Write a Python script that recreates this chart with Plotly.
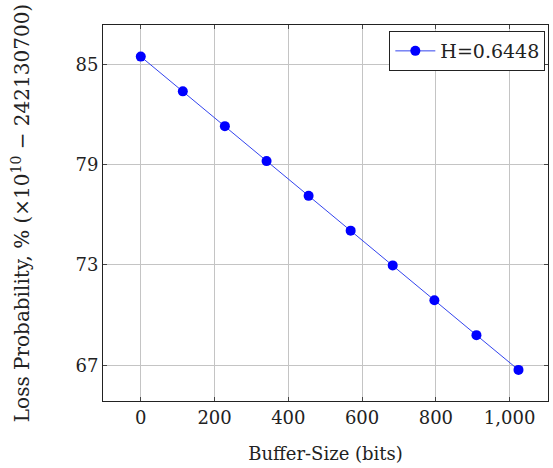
import plotly.graph_objects as go

buffer_size = [0, 114, 228, 341, 455, 569, 683, 796, 910, 1024]
loss_prob = [85.46, 83.38, 81.30, 79.21, 77.13, 75.05, 72.97, 70.89, 68.80, 66.72]
series_name = "H=0.6448"
x_tickvals = [0, 200, 400, 600, 800, 1000]
x_ticktext = ["0", "200", "400", "600", "800", "1,000"]
y_tickvals = [67, 73, 79, 85]
y_ticktext = ["67", "73", "79", "85"]

FONT = "DejaVu Serif"

fig = go.Figure()
fig.add_trace(go.Scatter(
    x=buffer_size, y=loss_prob, mode="lines+markers", name=series_name,
    line=dict(color="#3344ee", width=1),
    marker=dict(color="#0000ff", size=10, symbol="circle"),
    showlegend=True,
))

axis_common = dict(
    showline=True, linecolor="#222222", linewidth=1, mirror="ticks",
    ticks="inside", ticklen=4, tickcolor="#444444",
    showgrid=True, gridcolor="#c4c4c4", gridwidth=1,
    zeroline=False, tickfont=dict(family=FONT, size=18, color="#222222"),
)

fig.update_layout(
    width=553, height=468,
    margin=dict(l=103, r=5, t=25, b=67, autoexpand=False),
    paper_bgcolor="white", plot_bgcolor="white",
    font=dict(family=FONT, size=18, color="#222222"),
    xaxis=dict(range=[-102.4, 1104], tickvals=x_tickvals, ticktext=x_ticktext,
               title=dict(text="Buffer-Size (bits)", font=dict(family=FONT, size=18), standoff=20),
               **axis_common),
    yaxis=dict(range=[64.86, 87.35], tickvals=y_tickvals, ticktext=y_ticktext,
               title=dict(text="Loss Probability, % (×10<sup>10</sup> − 242130700)",
                          font=dict(family=FONT, size=20), standoff=40),
               **axis_common),
    legend=dict(x=0.994, y=0.984, xanchor="right", yanchor="top",
                bordercolor="#222222", borderwidth=1, bgcolor="white",
                font=dict(family=FONT, size=19), itemwidth=40),
)

fig.write_html("out.html", config={"displayModeBar": False},
               post_script="document.body.style.margin='0';document.body.style.padding='0';")
